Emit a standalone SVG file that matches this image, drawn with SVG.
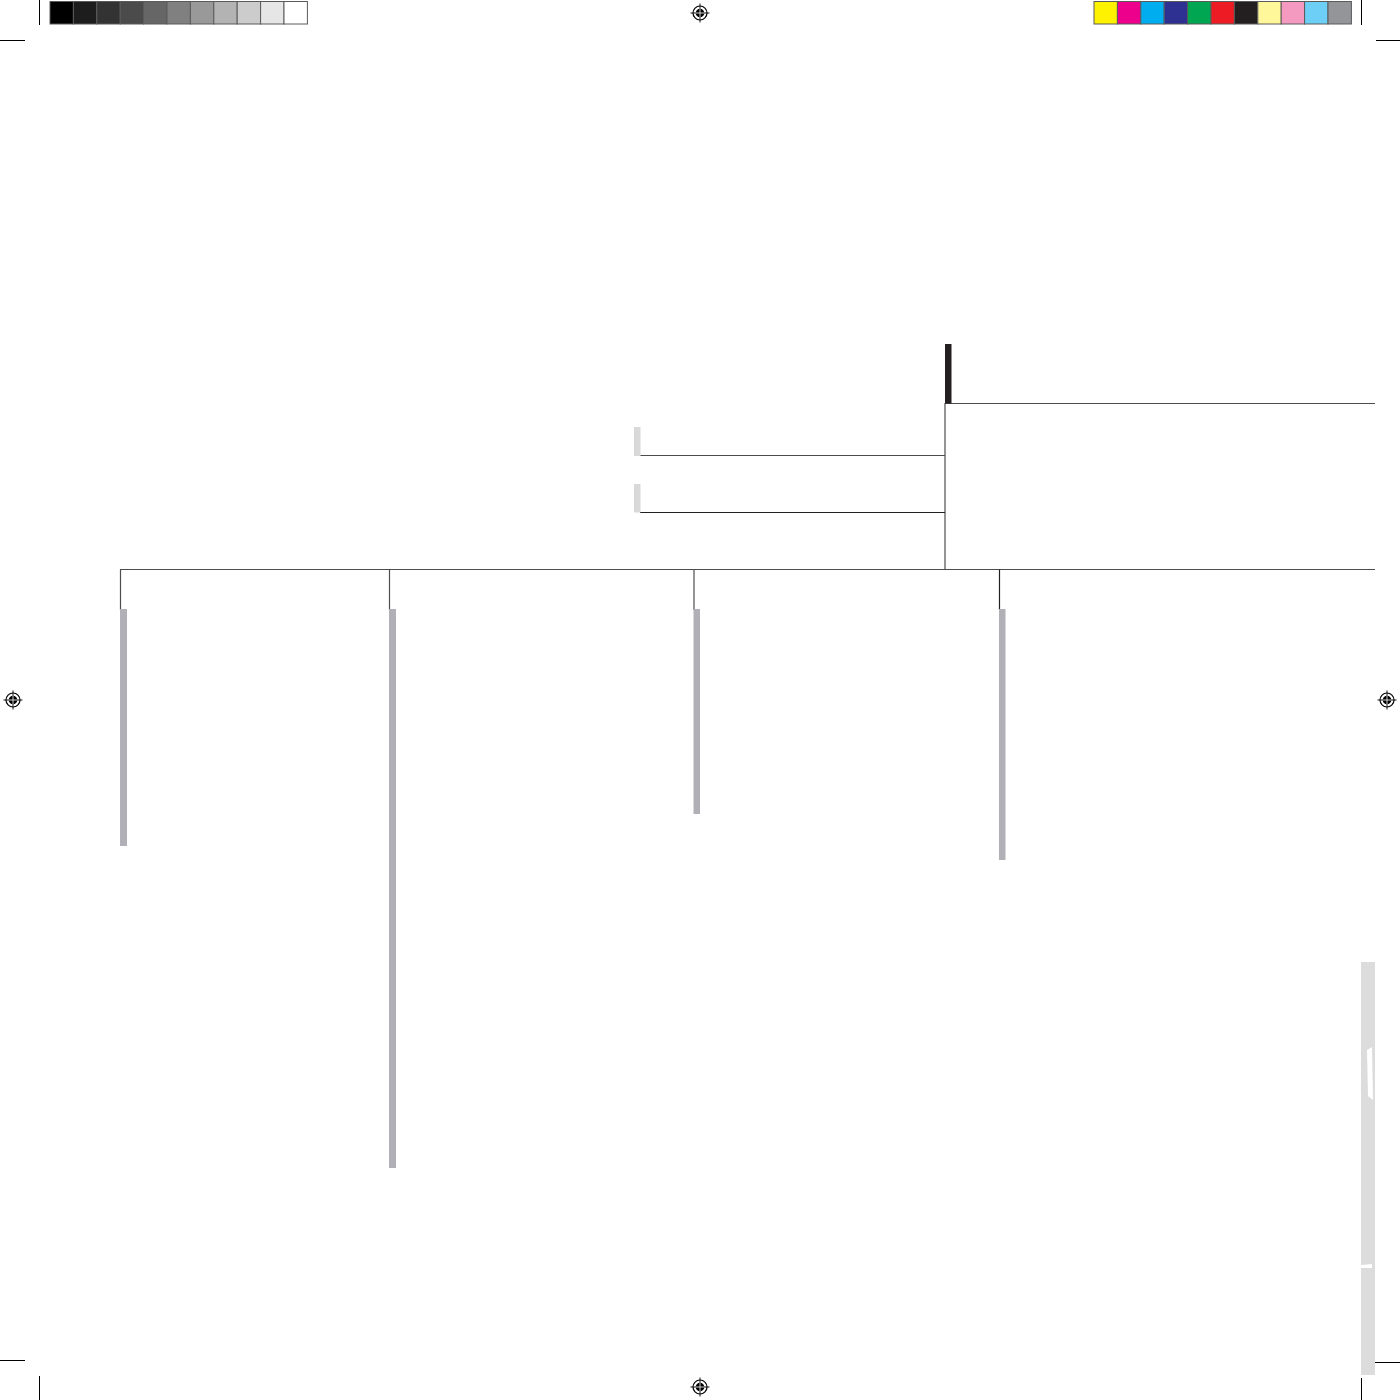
<svg xmlns="http://www.w3.org/2000/svg" width="1400" height="1400" viewBox="0 0 1400 1400">
<defs>
<style>
.sw{stroke:#5a5a5a;stroke-width:1}
.crop{stroke:#000;stroke-width:1}
.link{stroke:#4d4d4d;stroke-width:1.2;fill:none}
.dark{stroke:#231f20;stroke-width:1.2;fill:none}
.bar{fill:#b1b0b6}
.lbar{fill:#d9d9d9}
</style>
<g id="reg">
<circle r="7" fill="none" stroke="#000" stroke-width="1.2"/>
<circle r="4.3" fill="#000"/>
<line x1="-9.5" y1="0" x2="9.5" y2="0" stroke="#000" stroke-width="0.9"/>
<line x1="0" y1="-9.5" x2="0" y2="9.5" stroke="#000" stroke-width="0.9"/>
<line x1="-4.3" y1="0" x2="4.3" y2="0" stroke="#fff" stroke-width="0.8"/>
<line x1="0" y1="-4.3" x2="0" y2="4.3" stroke="#fff" stroke-width="0.8"/>
</g>
</defs>
<rect width="1400" height="1400" fill="#fff"/>

<g id="print-marks">
<g id="grayscale-bar">
<rect x="50" y="1.5" width="23.4" height="22.5" fill="#000" class="sw"/>
<rect x="73.4" y="1.5" width="23.4" height="22.5" fill="#1d1d1d" class="sw"/>
<rect x="96.8" y="1.5" width="23.4" height="22.5" fill="#333" class="sw"/>
<rect x="120.2" y="1.5" width="23.4" height="22.5" fill="#4b4b4b" class="sw"/>
<rect x="143.6" y="1.5" width="23.4" height="22.5" fill="#666" class="sw"/>
<rect x="167" y="1.5" width="23.4" height="22.5" fill="#808080" class="sw"/>
<rect x="190.4" y="1.5" width="23.4" height="22.5" fill="#999" class="sw"/>
<rect x="213.8" y="1.5" width="23.4" height="22.5" fill="#b3b3b3" class="sw"/>
<rect x="237.2" y="1.5" width="23.4" height="22.5" fill="#ccc" class="sw"/>
<rect x="260.6" y="1.5" width="23.4" height="22.5" fill="#e6e6e6" class="sw"/>
<rect x="284" y="1.5" width="23.4" height="22.5" fill="#fff" class="sw"/>
</g>
<g id="color-bar">
<rect x="1094" y="1.5" width="23.4" height="22.5" fill="#fff200" class="sw"/>
<rect x="1117.4" y="1.5" width="23.4" height="22.5" fill="#ec008c" class="sw"/>
<rect x="1140.8" y="1.5" width="23.4" height="22.5" fill="#00aeef" class="sw"/>
<rect x="1164.2" y="1.5" width="23.4" height="22.5" fill="#2e3192" class="sw"/>
<rect x="1187.6" y="1.5" width="23.4" height="22.5" fill="#00a651" class="sw"/>
<rect x="1211" y="1.5" width="23.4" height="22.5" fill="#ed1c24" class="sw"/>
<rect x="1234.4" y="1.5" width="23.4" height="22.5" fill="#231f20" class="sw"/>
<rect x="1257.8" y="1.5" width="23.4" height="22.5" fill="#fff799" class="sw"/>
<rect x="1281.2" y="1.5" width="23.4" height="22.5" fill="#f49ac1" class="sw"/>
<rect x="1304.6" y="1.5" width="23.4" height="22.5" fill="#6dcff6" class="sw"/>
<rect x="1328" y="1.5" width="23.4" height="22.5" fill="#939598" class="sw"/>
</g>
<g id="crop-marks">
<line x1="39.5" y1="0" x2="39.5" y2="25" class="crop"/>
<line x1="0" y1="40.5" x2="25" y2="40.5" class="crop"/>
<line x1="1361.5" y1="0" x2="1361.5" y2="25" class="crop"/>
<line x1="1376" y1="40.5" x2="1400" y2="40.5" class="crop"/>
<line x1="39.5" y1="1376" x2="39.5" y2="1400" class="crop"/>
<line x1="0" y1="1360.5" x2="25" y2="1360.5" class="crop"/>
<line x1="1361.5" y1="1378" x2="1361.5" y2="1400" class="crop"/>
<line x1="1375" y1="1362.5" x2="1400" y2="1362.5" class="crop"/>
</g>
<g id="registration">
<use href="#reg" x="700" y="13"/>
<use href="#reg" x="13" y="700"/>
<use href="#reg" x="1387" y="700"/>
<use href="#reg" x="700" y="1387"/>
</g>
<g id="edge-strip">
<rect x="1361" y="962" width="14" height="413" fill="#dcdcdc"/>
<path d="M1367 1050 L1372 1047 L1373 1100 L1368 1096 Z" fill="#fff"/>
<path d="M1361 1265 L1372 1264 L1372 1268 L1361 1268 Z" fill="#fff"/>
</g>
</g>

<g id="connectors">
<line x1="945" y1="403.5" x2="1375" y2="403.5" class="link"/>
<line x1="945" y1="403" x2="945" y2="569.5" class="link"/>
<line x1="640" y1="455.5" x2="945" y2="455.5" class="link"/>
<line x1="640" y1="512.5" x2="945" y2="512.5" class="dark"/>
<line x1="120" y1="569.5" x2="1375" y2="569.5" class="link"/>
<line x1="120.5" y1="569.5" x2="120.5" y2="610" class="link"/>
<line x1="389.5" y1="569.5" x2="389.5" y2="610" class="link"/>
<line x1="694" y1="569.5" x2="694" y2="610" class="link"/>
<line x1="999.5" y1="569.5" x2="999.5" y2="610" class="dark"/>
</g>

<g id="node-root"><rect x="945" y="344" width="6.5" height="59.5" fill="#231f20"/></g>
<g id="node-side-1"><rect x="634" y="427" width="6.5" height="29" class="lbar"/></g>
<g id="node-side-2"><rect x="634" y="484" width="6.5" height="28.5" class="lbar"/></g>
<g id="node-child-1"><rect x="120" y="609" width="7" height="237" class="bar"/></g>
<g id="node-child-2"><rect x="389" y="609" width="7" height="559" class="bar"/></g>
<g id="node-child-3"><rect x="693.5" y="609" width="6.5" height="205" class="bar"/></g>
<g id="node-child-4"><rect x="999" y="609" width="6.5" height="251" class="bar"/></g>
</svg>
